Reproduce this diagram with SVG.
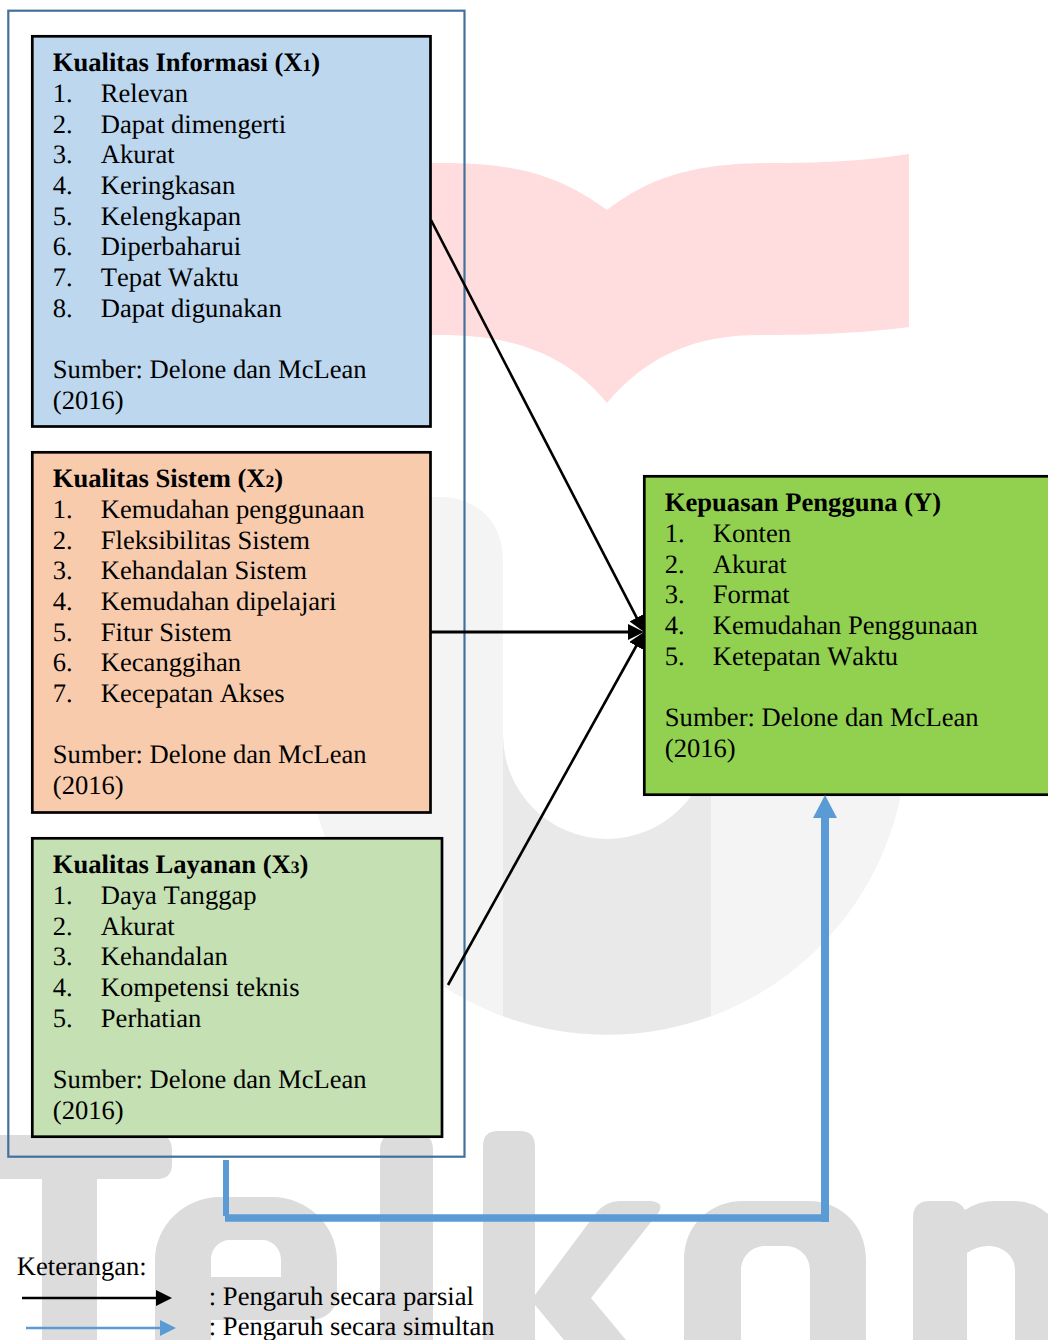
<svg xmlns="http://www.w3.org/2000/svg" width="1048" height="1340" viewBox="0 0 1048 1340">
<style>
text{font-family:"Liberation Serif","Times New Roman",serif;font-size:26.6px;fill:#000;font-kerning:none;text-rendering:geometricPrecision;transform:translate(-0.2px,-0.4px)}
.t{font-weight:bold}
.s{font-size:17.5px}
.box{stroke:#000;stroke-width:2.7}
.wm{fill:#dcdcdc}
.k{stroke:#000;stroke-width:2.6;fill:none}
.b{stroke:#5b9bd5;fill:none}
</style>
<defs>
<marker id="ah" markerUnits="userSpaceOnUse" markerWidth="16" markerHeight="16" refX="12" refY="8" orient="auto"><path d="M0 0L16 8L0 16Z" fill="#000"/></marker>
<marker id="ahb" markerUnits="userSpaceOnUse" markerWidth="16" markerHeight="16" refX="12" refY="8" orient="auto"><path d="M0 0L16 8L0 16Z" fill="#5b9bd5"/></marker>
<marker id="ahB" markerUnits="userSpaceOnUse" markerWidth="23" markerHeight="24" refX="8" refY="12" orient="auto"><path d="M0 0L23 12L0 24Z" fill="#5b9bd5"/></marker>
</defs>
<rect width="1048" height="1340" fill="#fff"/>
<g id="watermark">
<path fill="#ffdcdd" d="M300 163H440C510 163 555 172 607 210C645 182 682 163 775 163C830 163 870 160 909 154V327C870 332 830 335 760 335C700 335 650 352 607 403C565 352 510 335 440 335H300Z"/>
<path fill="#f4f4f4" d="M307 497H440C475 497 503 520 503 560V735A104 104 0 0 0 711 735V500H907V735A300 300 0 0 1 307 735Z"/>
<path fill="#e9e9e9" d="M503 735A104 104 0 0 0 711 735V1016A300 300 0 0 1 503 1016Z"/>
<path class="wm" d="M0 1135H157Q172 1135 172 1150V1164Q172 1179 157 1179H97V1340H42V1179H0Z"/>
<path class="wm" d="M155 1340V1260C155 1225 185 1197 220 1197H272C307 1197 337 1225 337 1260V1295C337 1310 325 1320 310 1320H211V1340ZM211 1277H281V1260C281 1248 272 1240 262 1240H230C220 1240 211 1248 211 1260Z" fill-rule="evenodd"/>
<path class="wm" d="M380 1340V1150Q380 1134 396 1134H418Q433 1134 433 1150V1340Z"/>
<path class="wm" d="M483 1340V1146Q483 1131 498 1131H520Q535 1131 535 1146V1295L596 1213Q606 1201 620 1201H652Q664 1203 659 1212L591 1298L626 1340H564L535 1305V1340Z"/>
<path class="wm" d="M684 1340V1260C684 1225 710 1201 743 1201H808C841 1201 866 1225 866 1260V1340H810V1271C810 1256 799 1246 785 1246H766C752 1246 741 1256 741 1271V1340Z"/>
<path class="wm" d="M913 1340V1218Q913 1201 930 1201H950Q960 1201 965 1210Q978 1201 995 1201H1014Q1033 1201 1048 1214V1340H1015V1270C1015 1256 1003 1246 988 1246Q977 1246 967 1253V1340Z"/>
</g>
<g id="group-x"><rect x="8.3" y="10.7" width="456.2" height="1146" fill="none" stroke="#41719c" stroke-width="2.2"/></g>
<g id="x1">
<rect class="box" x="32.3" y="36.3" width="398.2" height="390.2" fill="#bdd7ee"/>
<text class="t" x="53" y="71.7">Kualitas Informasi (X<tspan class="s">1</tspan>)</text>
<text x="53" y="102.4">1.</text><text x="101" y="102.4">Relevan</text>
<text x="53" y="133">2.</text><text x="101" y="133">Dapat dimengerti</text>
<text x="53" y="163.7">3.</text><text x="101" y="163.7">Akurat</text>
<text x="53" y="194.4">4.</text><text x="101" y="194.4">Keringkasan</text>
<text x="53" y="225">5.</text><text x="101" y="225">Kelengkapan</text>
<text x="53" y="255.7">6.</text><text x="101" y="255.7">Diperbaharui</text>
<text x="53" y="286.4">7.</text><text x="101" y="286.4">Tepat Waktu</text>
<text x="53" y="317">8.</text><text x="101" y="317">Dapat digunakan</text>
<text x="53" y="378.4">Sumber: Delone dan McLean</text>
<text x="53" y="409">(2016)</text>
</g>
<g id="x2">
<rect class="box" x="32.3" y="452.3" width="398.2" height="360.2" fill="#f8cbad"/>
<text class="t" x="53" y="487.7">Kualitas Sistem (X<tspan class="s">2</tspan>)</text>
<text x="53" y="518.4">1.</text><text x="101" y="518.4">Kemudahan penggunaan</text>
<text x="53" y="549">2.</text><text x="101" y="549">Fleksibilitas Sistem</text>
<text x="53" y="579.7">3.</text><text x="101" y="579.7">Kehandalan Sistem</text>
<text x="53" y="610.4">4.</text><text x="101" y="610.4">Kemudahan dipelajari</text>
<text x="53" y="641">5.</text><text x="101" y="641">Fitur Sistem</text>
<text x="53" y="671.7">6.</text><text x="101" y="671.7">Kecanggihan</text>
<text x="53" y="702.4">7.</text><text x="101" y="702.4">Kecepatan Akses</text>
<text x="53" y="763.7">Sumber: Delone dan McLean</text>
<text x="53" y="794.4">(2016)</text>
</g>
<g id="x3">
<rect class="box" x="32.3" y="838.3" width="409.7" height="298.4" fill="#c5e0b3"/>
<text class="t" x="53" y="873.7">Kualitas Layanan (X<tspan class="s">3</tspan>)</text>
<text x="53" y="904.4">1.</text><text x="101" y="904.4">Daya Tanggap</text>
<text x="53" y="935">2.</text><text x="101" y="935">Akurat</text>
<text x="53" y="965.7">3.</text><text x="101" y="965.7">Kehandalan</text>
<text x="53" y="996.4">4.</text><text x="101" y="996.4">Kompetensi teknis</text>
<text x="53" y="1027">5.</text><text x="101" y="1027">Perhatian</text>
<text x="53" y="1088.4">Sumber: Delone dan McLean</text>
<text x="53" y="1119">(2016)</text>
</g>
<g id="y">
<rect class="box" x="644.3" y="476.3" width="410" height="318.4" fill="#92d050"/>
<text class="t" x="665" y="511.7">Kepuasan Pengguna (Y)</text>
<text x="665" y="542.4">1.</text><text x="713" y="542.4">Konten</text>
<text x="665" y="573">2.</text><text x="713" y="573">Akurat</text>
<text x="665" y="603.7">3.</text><text x="713" y="603.7">Format</text>
<text x="665" y="634.4">4.</text><text x="713" y="634.4">Kemudahan Penggunaan</text>
<text x="665" y="665">5.</text><text x="713" y="665">Ketepatan Waktu</text>
<text x="665" y="726.4">Sumber: Delone dan McLean</text>
<text x="665" y="757">(2016)</text>
</g>
<g id="connectors">
<path class="k" d="M431 220L642.2 628.4" marker-end="url(#ah)"/>
<path class="k" d="M448 985L642.1 635.5" marker-end="url(#ah)"/>
<path class="k" style="stroke-width:3" d="M431 632H640" marker-end="url(#ah)"/>
<path class="b" stroke-width="6" d="M226 1160V1216"/>
<path class="b" stroke-width="7.5" d="M225 1218H829"/>
<path class="b" stroke-width="8" d="M825 1222V810" marker-end="url(#ahB)"/>
<path class="k" d="M22 1298H168" marker-end="url(#ah)"/>
<path class="b" stroke-width="2.6" d="M26 1328H172" marker-end="url(#ahb)"/>
</g>
<g id="legend">
<text x="17" y="1275">Keterangan:</text>
<text x="209" y="1305">: Pengaruh secara parsial</text>
<text x="209" y="1335.7">: Pengaruh secara simultan</text>
</g>
</svg>
